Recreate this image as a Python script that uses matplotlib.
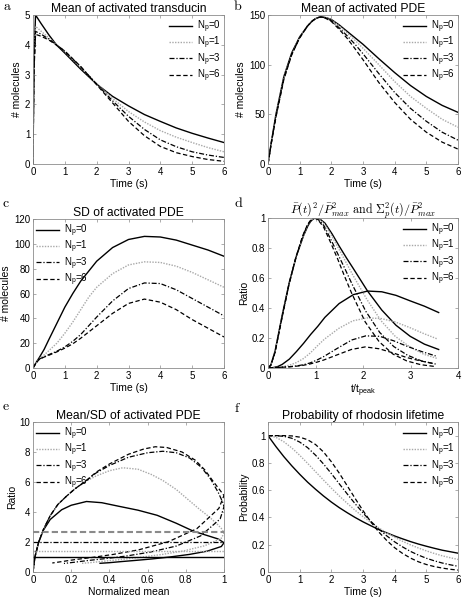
import matplotlib
matplotlib.use('Agg')
import matplotlib.pyplot as plt
import numpy as np

plt.rcParams['font.family'] = ['Liberation Sans', 'DejaVu Sans']

# ---------------- data ----------------
labels = [r'N$_{\mathregular{p}}$=0', r'N$_{\mathregular{p}}$=1',
          r'N$_{\mathregular{p}}$=3', r'N$_{\mathregular{p}}$=6']

# a: mean of activated transducin
ta = [0, 0.03, 0.08, 0.25, 0.5, 0.75, 1.0, 1.5, 2.0, 2.5, 3.0, 3.5, 4.0, 4.5, 5.0, 5.5, 6.0]
a_np0 = [0, 3.5, 5.0, 4.72, 4.33, 3.98, 3.72, 3.18, 2.68, 2.27, 1.95, 1.66, 1.43, 1.21, 1.03, 0.87, 0.72]
a_np1 = [0, 3.3, 4.62, 4.46, 4.23, 4.00, 3.77, 3.24, 2.70, 2.20, 1.76, 1.41, 1.12, 0.90, 0.72, 0.55, 0.41]
a_np3 = [0, 3.2, 4.45, 4.36, 4.19, 3.99, 3.78, 3.26, 2.68, 2.12, 1.60, 1.16, 0.81, 0.58, 0.41, 0.30, 0.22]
a_np6 = [0, 3.1, 4.35, 4.29, 4.16, 3.98, 3.79, 3.27, 2.66, 2.05, 1.43, 0.95, 0.59, 0.38, 0.25, 0.15, 0.09]

# b: mean of activated PDE
tb = [0, 0.1, 0.25, 0.5, 0.75, 1.0, 1.25, 1.4, 1.5, 1.6, 1.67, 1.75, 1.85, 2.0, 2.25, 2.5, 2.75, 3.0,
      3.5, 4.0, 4.5, 5.0, 5.5, 6.0]
b_np0 = [0, 21, 50, 88, 112, 128, 139, 144, 146.3, 147.6, 148, 147.8, 147.2, 145.5, 140, 133.5, 127, 120.5,
         106, 92, 79, 68, 59, 52]
b_np1 = [0, 21, 49, 87, 111, 127.5, 139, 144, 146.3, 147.6, 148, 147.7, 147, 145, 139, 132, 124.5, 116.5,
         100, 83, 68, 56, 45, 37]
b_np3 = [0, 20.5, 48, 86, 110.5, 127, 139, 144, 146.3, 147.6, 148, 147.6, 146.6, 144.2, 137, 129, 120.5, 111,
         91, 72, 56, 43, 32, 24]
b_np6 = [0, 20, 47, 85, 110, 127, 139, 144, 146.3, 147.6, 148, 147.5, 146.2, 143.5, 135.5, 126.5, 116, 105,
         82, 62, 45, 32, 22, 15]

# c: SD of activated PDE
tc = [0, 0.1, 0.2, 0.35, 0.5, 0.75, 1.0, 1.25, 1.5, 1.75, 2.0, 2.5, 3.0, 3.5, 4.0, 4.5, 5.0, 5.5, 6.0]
c_np0 = [0, 4.5, 8.5, 15, 23, 36, 49, 60, 70, 78, 86, 97, 103.5, 106, 105.5, 103, 99, 95, 90]
c_np1 = [0, 4.3, 7.5, 10.5, 14, 20, 28, 37, 47, 57, 65, 76, 83, 85.5, 85, 82, 77, 71, 65]
c_np3 = [0, 4.2, 7.2, 9.0, 10.8, 13.5, 17, 21.5, 27, 34, 41, 54, 64, 68.5, 68, 63, 56, 49, 42]
c_np6 = [0, 4.2, 7.0, 8.8, 10.3, 13, 16, 19.5, 24, 29, 34, 44, 52, 55.5, 53, 47, 39, 32, 25]

# d: time of peak of the mean for each N_p
t_peak = [1.67, 1.68, 1.70, 1.71]

# e: mean/SD versus normalized mean (parametric curves)
e_x_np0 = [0, 0.01, 0.03, 0.055, 0.09, 0.15, 0.2, 0.28, 0.36, 0.45, 0.55, 0.65, 0.75, 0.84, 0.92, 0.97, 1.0,
           0.986, 0.912, 0.818, 0.716, 0.622, 0.534, 0.459, 0.399, 0.351]
e_y_np0 = [0, 1.0, 2.0, 2.8, 3.5, 4.15, 4.45, 4.7, 4.62, 4.38, 4.12, 3.78, 3.25, 2.72, 2.4, 2.2, 1.95,
           1.70, 1.39, 1.17, 1.0, 0.87, 0.77, 0.69, 0.62, 0.58]
e_x_np1 = [0, 0.01, 0.03, 0.055, 0.09, 0.13, 0.175, 0.22, 0.27, 0.33, 0.4, 0.47, 0.55, 0.62, 0.68, 0.75, 0.81,
           0.87, 0.92, 0.96, 0.99, 1.0, 0.986, 0.899, 0.79, 0.676, 0.561, 0.459, 0.378, 0.304, 0.25]
e_y_np1 = [0, 1.0, 2.0, 2.85, 3.75, 4.5, 5.05, 5.55, 6.0, 6.4, 6.75, 6.95, 6.85, 6.5, 6.1, 5.5, 4.85,
           4.2, 3.7, 3.25, 2.85, 2.6, 2.25, 1.75, 1.41, 1.17, 0.98, 0.83, 0.73, 0.63, 0.57]
e_x_np3 = [0, 0.01, 0.03, 0.055, 0.09, 0.13, 0.175, 0.22, 0.27, 0.33, 0.4, 0.5, 0.6, 0.68, 0.75, 0.82, 0.88,
           0.93, 0.97, 0.995, 1.0, 0.98, 0.878, 0.75, 0.615, 0.486, 0.378, 0.29, 0.216, 0.162]
e_y_np3 = [0, 1.0, 2.0, 2.85, 3.75, 4.5, 5.05, 5.55, 6.0, 6.6, 7.1, 7.65, 7.95, 8.05, 7.95, 7.6, 7.0,
           6.2, 5.3, 4.6, 4.35, 3.54, 2.41, 1.73, 1.33, 1.06, 0.89, 0.77, 0.65, 0.57]
e_x_np6 = [0, 0.01, 0.03, 0.055, 0.09, 0.13, 0.175, 0.22, 0.27, 0.33, 0.4, 0.5, 0.58, 0.64, 0.7, 0.78, 0.85,
           0.9, 0.94, 0.97, 1.0, 0.973, 0.858, 0.709, 0.554, 0.419, 0.304, 0.216, 0.149, 0.101]
e_y_np6 = [0, 1.0, 2.0, 2.85, 3.75, 4.5, 5.05, 5.55, 6.0, 6.65, 7.2, 7.85, 8.2, 8.35, 8.3, 8.0, 7.45,
           6.8, 6.1, 5.6, 5.1, 4.24, 2.89, 2.02, 1.48, 1.17, 0.96, 0.82, 0.69, 0.60]
e_asym = [1.0, 1.41, 2.0, 2.65]

# f: probability of rhodopsin lifetime
tf = [0, 0.25, 0.5, 0.75, 1.0, 1.25, 1.5, 1.75, 2.0, 2.25, 2.5, 2.75, 3.0, 3.25, 3.5, 3.75,
      4.0, 4.25, 4.5, 4.75, 5.0, 5.25, 5.5, 5.75, 6.0]
f_np0 = [1, 0.92, 0.846, 0.779, 0.717, 0.659, 0.607, 0.558, 0.513, 0.472, 0.435, 0.40, 0.368, 0.339,
         0.311, 0.287, 0.264, 0.243, 0.223, 0.205, 0.189, 0.174, 0.160, 0.149, 0.138]
f_np1 = [1, 0.988, 0.955, 0.910, 0.856, 0.797, 0.736, 0.675, 0.615, 0.558, 0.504, 0.453, 0.406, 0.363,
         0.323, 0.287, 0.255, 0.225, 0.199, 0.176, 0.155, 0.136, 0.119, 0.105, 0.092]
f_np3 = [1, 0.9995, 0.995, 0.981, 0.953, 0.912, 0.857, 0.793, 0.722, 0.647, 0.573, 0.501, 0.433, 0.371,
         0.315, 0.265, 0.221, 0.184, 0.151, 0.124, 0.101, 0.082, 0.066, 0.053, 0.042]
f_np6 = [1, 1.0, 1.0, 0.998, 0.989, 0.970, 0.935, 0.881, 0.809, 0.725, 0.633, 0.540, 0.450, 0.367,
         0.293, 0.231, 0.178, 0.136, 0.102, 0.075, 0.055, 0.040, 0.029, 0.020, 0.014]

# ---------------- styling ----------------
styles = [dict(color='black', lw=1.0, ls='-'),
          dict(color='#a8a8a8', lw=1.0, ls=(0, (1, 1))),
          dict(color='black', lw=0.9, ls=(0, (4, 1.5, 1, 1.5))),
          dict(color='black', lw=0.9, ls=(0, (3.5, 2)))]

W, H = 462, 601
fig = plt.figure(figsize=(W / 100, H / 100), dpi=100)


def make_ax(l, t, r, b):
    ax = fig.add_axes([l / W, 1 - b / H, (r - l) / W, (b - t) / H])
    for s in ax.spines.values():
        s.set_color('#8c8c8c')
        s.set_linewidth(0.6)
    ax.tick_params(direction='in', length=2.5, width=0.5, color='#8c8c8c',
                   labelsize=7, pad=2, top=True, right=True)
    return ax


def letter(x, y, s):
    fig.text(x / W, 1 - y / H, r'$\mathrm{%s}$' % s, math_fontfamily='cm', fontsize=10,
             ha='left', va='baseline')


def add_legend(ax, loc):
    ax.legend(loc=loc, frameon=False, fontsize=7, handlelength=2.3,
              labelspacing=0.0, handletextpad=0.5, borderaxespad=0.15, borderpad=0.2)


def finish(ax, title, xlabel, ylabel, legloc):
    ax.set_title(title, fontsize=8.7, pad=2.5)
    ax.set_xlabel(xlabel, fontsize=7.5, labelpad=1.5)
    ax.set_ylabel(ylabel, fontsize=7.5, labelpad=2)
    add_legend(ax, legloc)


def fmt(v):
    return ('%g' % v)

# a
ax = make_ax(33, 15, 224, 164)
for y, st, lb in zip([a_np0, a_np1, a_np3, a_np6], styles, labels):
    ax.plot(ta, y, label=lb, **st)
ax.set_xlim(0, 6); ax.set_ylim(0, 5)
ax.set_xticks(range(7)); ax.set_yticks(range(6))
finish(ax, 'Mean of activated transducin', 'Time (s)', '# molecules', 'upper right')
letter(3, 10, 'a')

# b
ax = make_ax(268, 15, 458, 164)
for y, st, lb in zip([b_np0, b_np1, b_np3, b_np6], styles, labels):
    ax.plot(tb, y, label=lb, **st)
ax.set_xlim(0, 6); ax.set_ylim(0, 150)
ax.set_xticks(range(7)); ax.set_yticks([0, 50, 100, 150])
finish(ax, 'Mean of activated PDE', 'Time (s)', '# molecules', 'upper right')
letter(233, 10, 'b')

# c
ax = make_ax(33, 219, 224, 368)
for y, st, lb in zip([c_np0, c_np1, c_np3, c_np6], styles, labels):
    ax.plot(tc, y, label=lb, **st)
ax.set_xlim(0, 6); ax.set_ylim(0, 120)
ax.set_xticks(range(7)); ax.set_yticks(range(0, 121, 20))
finish(ax, 'SD of activated PDE', 'Time (s)', '# molecules', 'upper left')
letter(2, 207, 'c')

# d
ax = make_ax(268, 218, 458, 368)
bs = [b_np0, b_np1, b_np3, b_np6]
cs = [c_np0, c_np1, c_np3, c_np6]
for bm, sd, tp, st, lb in zip(bs, cs, t_peak, styles, labels):
    pmax = max(bm)
    ax.plot(np.array(tb) / tp, (np.array(bm) / pmax) ** 2, label=lb, **st)
    ax.plot(np.array(tc) / tp, (np.array(sd) / pmax) ** 2, **st)
ax.set_xlim(0, 4); ax.set_ylim(0, 1)
ax.set_xticks(range(5)); ax.set_yticks([0, 0.2, 0.4, 0.6, 0.8, 1])
ax.set_yticklabels([fmt(v) for v in [0, 0.2, 0.4, 0.6, 0.8, 1]])
ax.set_title(r'$\bar{P}(t)^2/\bar{P}^2_{max}\ \mathrm{and}\ \Sigma^2_p(t)/\bar{P}^2_{max}$',
             math_fontfamily='cm', fontsize=8.7, pad=3)
ax.set_xlabel(r't/t$_{\mathregular{peak}}$', fontsize=7.5, labelpad=1.5)
ax.set_ylabel('Ratio', fontsize=7.5, labelpad=2)
add_legend(ax, 'upper right')
letter(234, 207, 'd')

# e
ax = make_ax(33, 422, 224, 572)
ex = [e_x_np0, e_x_np1, e_x_np3, e_x_np6]
ey = [e_y_np0, e_y_np1, e_y_np3, e_y_np6]
for x, y, st, lb in zip(ex, ey, styles, labels):
    ax.plot(x, y, label=lb, **st)
hstyles = [dict(color='black', lw=1.0, ls='-'),
           dict(color='#a8a8a8', lw=1.0, ls=(0, (1, 1))),
           dict(color='black', lw=0.9, ls=(0, (4, 1.5, 1, 1.5))),
           dict(color='#8a8a8a', lw=1.5, ls=(0, (3, 1.5)))]
for v, st in zip(e_asym, hstyles):
    ax.axhline(v, **st)
ax.set_xlim(0, 1); ax.set_ylim(0, 10)
ax.set_xticks([0, 0.2, 0.4, 0.6, 0.8, 1]); ax.set_yticks(range(0, 11, 2))
ax.set_xticklabels([fmt(v) for v in [0, 0.2, 0.4, 0.6, 0.8, 1]])
finish(ax, 'Mean/SD of activated PDE', 'Normalized mean', 'Ratio', 'upper left')
letter(2, 410, 'e')

# f
ax = make_ax(268, 422, 458, 572)
for y, st, lb in zip([f_np0, f_np1, f_np3, f_np6], styles, labels):
    ax.plot(tf, y, label=lb, **st)
ax.set_xlim(0, 6); ax.set_ylim(0, 1.1)
ax.set_xticks(range(7)); ax.set_yticks([0, 0.2, 0.4, 0.6, 0.8, 1])
ax.set_yticklabels([fmt(v) for v in [0, 0.2, 0.4, 0.6, 0.8, 1]])
finish(ax, 'Probability of rhodosin lifetime', 'Time (s)', 'Probability', 'upper right')
letter(234, 412, 'f')

fig.savefig('out.png', dpi=100)
